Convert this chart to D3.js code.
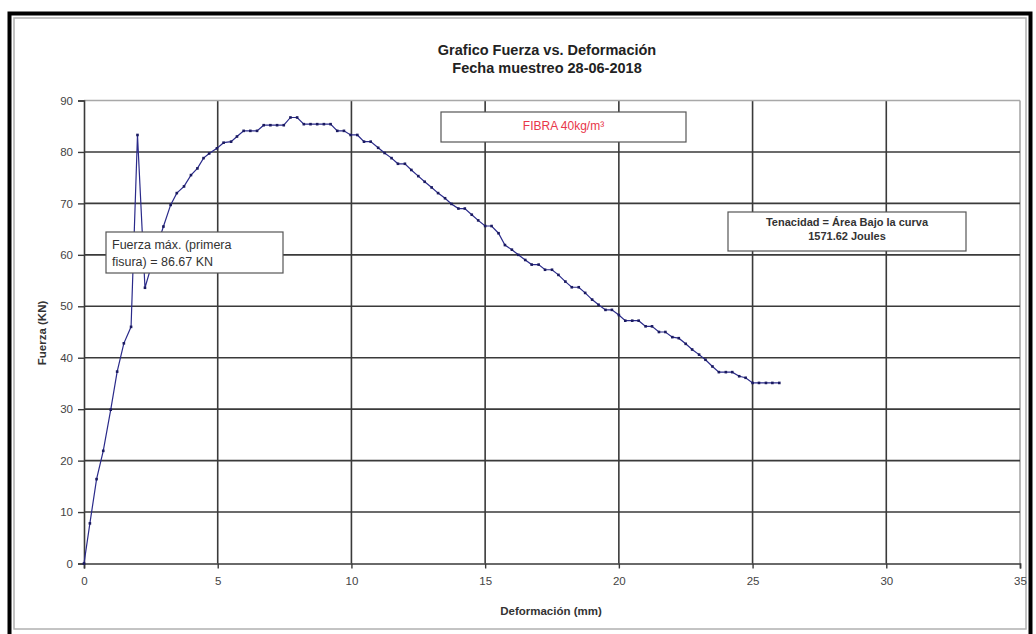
<!DOCTYPE html>
<html>
<head>
<meta charset="utf-8">
<script src="https://cdn.jsdelivr.net/npm/d3@7"></script>
<style>
  body { margin: 0; background: #fff; }
  text { font-family: "Liberation Sans", Arial, sans-serif; }
</style>
</head>
<body>
<svg id="chart-svg"></svg>
<script>
// data -------------------------------------------------------------------
const deformacion = [
  0, 0.22, 0.47, 0.72, 1.0, 1.24, 1.49, 1.76, 2.0, 2.28, 2.5, 2.72, 2.97,
  3.24, 3.47, 3.74, 4.0, 4.24, 4.47, 4.68, 4.97, 5.22, 5.5, 5.72, 5.97,
  6.22, 6.47, 6.72, 6.97, 7.22, 7.47, 7.72, 7.97, 8.22, 8.47, 8.72, 8.97,
  9.22, 9.47, 9.72, 9.97, 10.22, 10.47, 10.72, 11.0, 11.24, 11.5, 11.74,
  12.0, 12.24, 12.5, 12.74, 13.0, 13.24, 13.5, 13.74, 14.0, 14.24, 14.5,
  14.74, 15.0, 15.24, 15.5, 15.74, 16.0, 16.24, 16.5, 16.74, 17.0, 17.24,
  17.5, 17.74, 18.0, 18.24, 18.5, 18.74, 19.0, 19.24, 19.5, 19.74, 20.0,
  20.24, 20.5, 20.74, 21.0, 21.24, 21.5, 21.74, 22.0, 22.24, 22.5, 22.74,
  23.0, 23.24, 23.5, 23.74, 24.0, 24.24, 24.5, 24.74, 25.0, 25.24, 25.5,
  25.74, 26.0
];
const fuerza = [
  0, 7.8, 16.4, 21.9, 29.9, 37.3, 42.8, 46.0, 83.3, 53.6, 57.5, 61.5, 65.5,
  69.7, 72.0, 73.3, 75.5, 76.8, 78.8, 79.7, 80.7, 81.8, 82.0, 83.0, 84.1,
  84.1, 84.1, 85.2, 85.2, 85.2, 85.2, 86.7, 86.7, 85.4, 85.4, 85.4, 85.4,
  85.4, 84.1, 84.1, 83.3, 83.3, 82.0, 82.0, 80.8, 79.8, 78.8, 77.7,
  77.7, 76.5, 75.3, 74.2, 73.1, 72.0, 71.0, 69.9, 69.0, 69.0, 67.8,
  66.7, 65.6, 65.6, 64.2, 61.9, 61.0, 60.0, 59.0, 58.1, 58.1, 57.1,
  57.1, 56.1, 54.8, 53.7, 53.7, 52.6, 51.3, 50.3, 49.3, 49.3, 48.3,
  47.2, 47.2, 47.2, 46.1, 46.1, 45.0, 45.0, 44.0, 43.8, 42.7, 41.6,
  40.6, 39.6, 38.3, 37.2, 37.2, 37.2, 36.4, 36.1, 35.1, 35.1, 35.1,
  35.1, 35.1
];

const xTicks = [0, 5, 10, 15, 20, 25, 30, 35];
const yTicks = [0, 10, 20, 30, 40, 50, 60, 70, 80, 90];

const titleLines = ["Grafico Fuerza vs. Deformación", "Fecha muestreo 28-06-2018"];
const xTitle = "Deformación (mm)";
const yTitle = "Fuerza (KN)";
const maxLines = ["Fuerza máx. (primera", "fisura) = 86.67 KN"];
const fibraText = "FIBRA 40kg/m³";
const tenacidadLines = ["Tenacidad = Área Bajo la curva", "1571.62 Joules"];

// svg specification --------------------------------------------------------
let width = 1036;
let height = 634;
let plot = {left: 84, right: 1020, top: 100.5, bottom: 563.5};

let svg, xScale, yScale;

function initFrame()
{
    svg = d3.select("#chart-svg")
        .attr("width", width)
        .attr("height", height);

    svg.append("rect")
        .attr("x", 0).attr("y", 0)
        .attr("width", width).attr("height", height)
        .attr("fill", "#fff");

    // thick black outer frame (bottom edge falls off the picture)
    svg.append("rect")
        .attr("x", 9.5).attr("y", 13.5)
        .attr("width", 1021).attr("height", 640)
        .attr("fill", "none")
        .attr("stroke", "#000")
        .attr("stroke-width", 4);

    // grey chart-area border inside it
    svg.append("rect")
        .attr("x", 14).attr("y", 18)
        .attr("width", 1012).attr("height", 611)
        .attr("fill", "none")
        .attr("stroke", "#b0b0b0")
        .attr("stroke-width", 1.5);
}

function initScales()
{
    xScale = d3.scaleLinear().domain([0, 35]).range([plot.left, plot.right]);
    yScale = d3.scaleLinear().domain([0, 90]).range([plot.bottom, plot.top]);
}

function drawGrid()
{
    const grid = svg.append("g");

    grid.selectAll("line.v")
        .data(xTicks.filter(d => d > 0))
        .join("line")
        .attr("class", "v")
        .attr("x1", d => xScale(d)).attr("x2", d => xScale(d))
        .attr("y1", yScale(90)).attr("y2", yScale(0))
        .attr("stroke", d => d === 35 ? "#a8a8a8" : "#3a3a3a")
        .attr("stroke-width", 1.6);

    grid.selectAll("line.h")
        .data(yTicks.filter(d => d > 0))
        .join("line")
        .attr("class", "h")
        .attr("x1", xScale(0)).attr("x2", xScale(35))
        .attr("y1", d => yScale(d)).attr("y2", d => yScale(d))
        .attr("stroke", d => d === 90 ? "#a8a8a8" : "#3a3a3a")
        .attr("stroke-width", 1.6);
}

function drawAxes()
{
    const xAxis = svg.append("g")
        .attr("transform", `translate(0, ${yScale(0)})`)
        .call(d3.axisBottom(xScale).tickValues(xTicks).tickSize(5).tickPadding(8));

    const yAxis = svg.append("g")
        .attr("transform", `translate(${xScale(0)}, 0)`)
        .call(d3.axisLeft(yScale).tickValues(yTicks).tickSize(6).tickPadding(5));

    [xAxis, yAxis].forEach(g => {
        g.select(".domain").attr("stroke", "#3a3a3a").attr("stroke-width", 1.6);
        g.selectAll(".tick line").attr("stroke", "#3a3a3a").attr("stroke-width", 1.4);
        g.selectAll(".tick text")
            .attr("fill", "#444")
            .style("font-family", "'Liberation Sans', Arial, sans-serif")
            .style("font-size", "11.5px");
    });
    // d3 puts its own font on the axis group
    xAxis.attr("font-family", null);
    yAxis.attr("font-family", null);
}

function drawTitles()
{
    svg.selectAll("text.title")
        .data(titleLines)
        .join("text")
        .attr("class", "title")
        .attr("x", 547)
        .attr("y", (d, i) => 55 + i * 18)
        .attr("text-anchor", "middle")
        .attr("font-weight", "bold")
        .attr("font-size", 14.5)
        .attr("fill", "#222")
        .text(d => d);

    svg.append("text")
        .attr("x", 551).attr("y", 615)
        .attr("text-anchor", "middle")
        .attr("font-weight", "bold")
        .attr("font-size", 11.5)
        .attr("fill", "#333")
        .text(xTitle);

    svg.append("text")
        .attr("transform", "translate(46, 333) rotate(-90)")
        .attr("text-anchor", "middle")
        .attr("font-weight", "bold")
        .attr("font-size", 11.5)
        .attr("fill", "#333")
        .text(yTitle);
}

function drawSeries()
{
    const points = deformacion.map((d, i) => ({x: d, y: fuerza[i]}));

    const line = d3.line()
        .x(d => xScale(d.x))
        .y(d => yScale(d.y));

    svg.append("path")
        .datum(points)
        .attr("d", line)
        .attr("fill", "none")
        .attr("stroke", "#2a2a8a")
        .attr("stroke-width", 1.2);

    svg.append("g")
        .selectAll("rect")
        .data(points)
        .join("rect")
        .attr("x", d => xScale(d.x) - 1.3)
        .attr("y", d => yScale(d.y) - 1.3)
        .attr("width", 2.6)
        .attr("height", 2.6)
        .attr("fill", "#1a1a60");
}

function textBox(x, y, w, h, lines, opts)
{
    const g = svg.append("g");
    g.append("rect")
        .attr("x", x).attr("y", y)
        .attr("width", w).attr("height", h)
        .attr("fill", "#fff")
        .attr("stroke", "#555")
        .attr("stroke-width", 1.2);

    g.selectAll("text")
        .data(lines)
        .join("text")
        .attr("x", opts.anchor === "middle" ? x + w / 2 : x + 6)
        .attr("y", (d, i) => opts.firstLine + i * opts.lineStep)
        .attr("text-anchor", opts.anchor)
        .attr("font-size", opts.size)
        .attr("font-weight", opts.bold ? "bold" : "normal")
        .attr("fill", opts.color)
        .text(d => d);
}

function drawAnnotations()
{
    textBox(106, 232, 177, 41, maxLines,
        {anchor: "start", size: 12.5, color: "#333", firstLine: 249, lineStep: 17});

    textBox(441, 112, 245, 30, [fibraText],
        {anchor: "middle", size: 12, color: "#e8364a", firstLine: 130, lineStep: 0});

    textBox(728, 212, 238, 39, tenacidadLines,
        {anchor: "middle", size: 11, bold: true, color: "#333", firstLine: 226, lineStep: 14});
}

function init()
{
    initFrame();
    initScales();
    drawGrid();
    drawAxes();
    drawTitles();
    drawSeries();
    drawAnnotations();
}

init();
</script>
</body>
</html>
